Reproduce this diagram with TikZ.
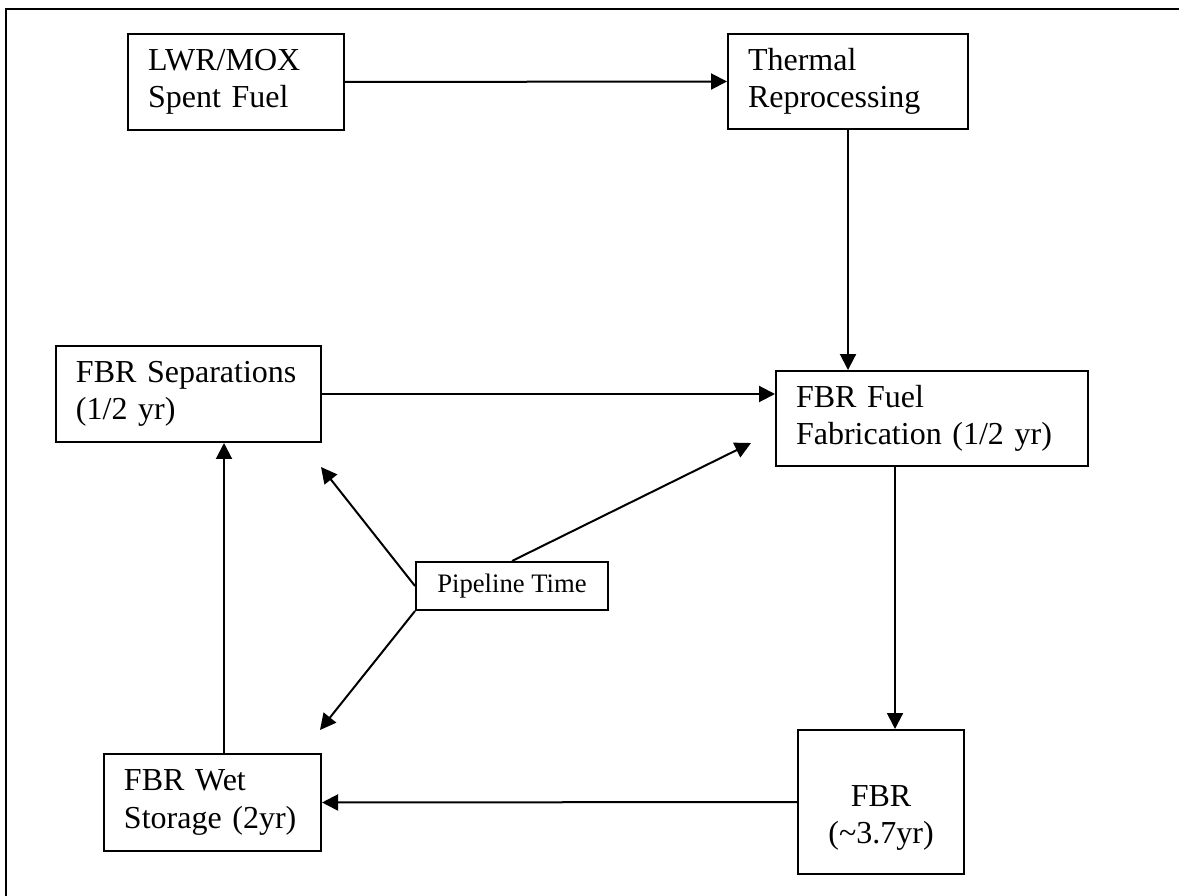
\documentclass[tikz,border=0pt]{standalone}
\usepackage{fontspec}
\setmainfont{Liberation Serif}
\usetikzlibrary{arrows.meta, positioning, calc}

\begin{document}
\begin{tikzpicture}[x=0.375pt, y=-0.375pt,
    box/.style={draw, line width=0.75pt, inner xsep=7.5pt, inner ysep=0pt, align=left, font=\fontsize{12}{13.9}\selectfont},
    flow/.style={line width=0.75pt, -{Triangle[length=6pt, width=6pt]}}]
\useasboundingbox (0,0) rectangle (1179,896);

% Frame (top and left edges only)
\draw[line width=1.1pt] (6,896) -- (6,9) -- (1179,9);

% Boxes
\node[box, text width=66pt, minimum height=36pt] (lwr) at (236,82) {LWR/MOX\\Spent Fuel};
\node[box, text width=75pt, minimum height=35.6pt] (thermal) at (848,81.5) {Thermal\\Reprocessing};
\node[box, text width=84.4pt, minimum height=36pt] (sep) at (188.5,394) {FBR Separations\\(1/2 yr)};
\node[box, text width=102pt, minimum height=35.6pt] (fab) at (932,418.5) {FBR Fuel\\Fabrication (1/2 yr)};
\node[box, text width=47.25pt, minimum height=54pt, align=center] (fbr) at (881,802) {\rule{0pt}{20pt}FBR\\(\textasciitilde3.7yr)};
\node[box, text width=66.4pt, minimum height=36.4pt] (wet) at (212.5,802.5) {FBR Wet\\Storage (2yr)};
\node[box, minimum width=72pt, minimum height=18pt, inner xsep=0pt, align=center, font=\fontsize{10}{12}\selectfont] (pipe) at (512,586) {Pipeline Time};

% Free ends of the pipeline arrows
\coordinate (sepend) at (321,467);
\coordinate (fabend) at (751,443);
\coordinate (wetend) at (320,730);
\coordinate (fabout) at ($(fbr.north)+(14,0)$);
\coordinate (wetout) at ($(wet.north)+(11.5,0)$);

% Fuel cycle
\draw[flow] (lwr.east) -- (thermal.west);
\draw[flow] (thermal.south) -- (thermal.south |- fab.north);
\draw[flow] (sep.east) -- (sep.east -| fab.west);
\draw[flow] (fabout |- fab.south) -- (fabout);
\draw[flow] (fbr.west) -- (wet.east);
\draw[flow] (wetout) -- (wetout |- sep.south);

% Pipeline time
\draw[flow] (pipe.west) -- (sepend);
\draw[flow] (pipe.north) -- (fabend);
\draw[flow] (pipe.south west) -- (wetend);
\end{tikzpicture}
\end{document}
